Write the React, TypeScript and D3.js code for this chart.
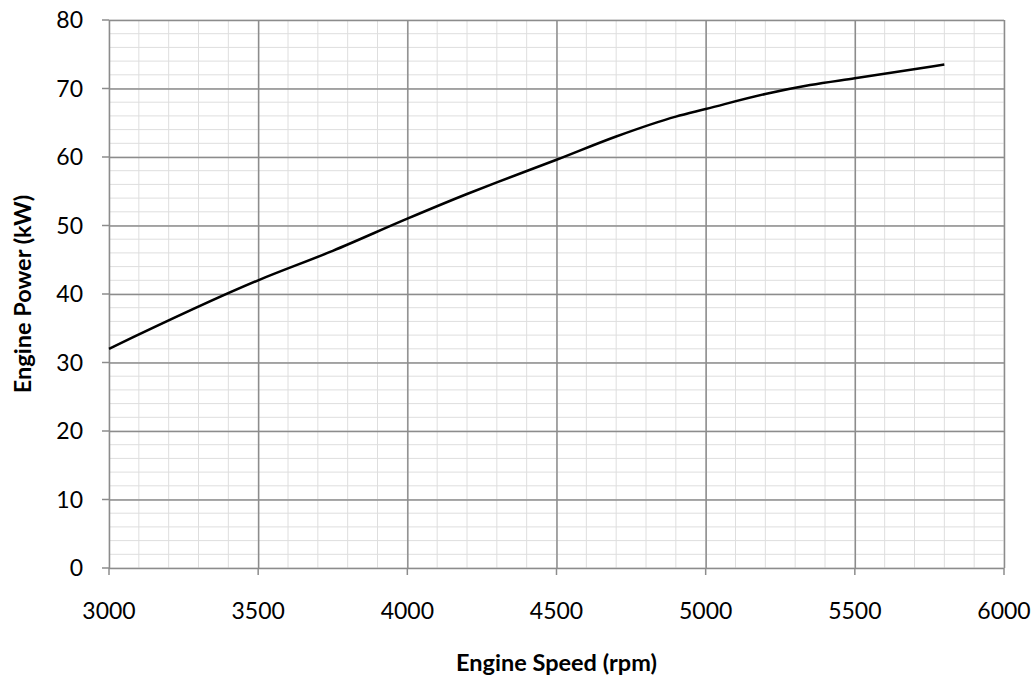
import * as d3 from 'd3';
import { useRef, useEffect } from 'react';

// DATA
const SPEED = [3000, 3500, 3750, 4000, 4200, 4300, 4500, 4700, 4900, 5000, 5200, 5350, 5500, 5800];
const POWER = [32, 42, 46.3, 51, 54.6, 56.3, 59.6, 63, 65.9, 67, 69.2, 70.5, 71.5, 73.5];
const X_TICKS = [3000, 3500, 4000, 4500, 5000, 5500, 6000];
const Y_TICKS = [0, 10, 20, 30, 40, 50, 60, 70, 80];
const X_MINOR = d3.range(3000, 6001, 100);
const Y_MINOR = d3.range(0, 81, 2);

// RENDERING SETUP
const W = 1035;
const H = 677;
const MARGIN = { TOP: 20, BOTTOM: 109, LEFT: 109, RIGHT: 31 };
const FONT = 'Lato, "Open Sans", sans-serif';
const COLOR = { MAJOR: '#8c8c8c', MINOR: '#dedede', LINE: '#000', TEXT: '#000' };

const App = () => {
  const svgRef = useRef<SVGSVGElement>(null);

  useEffect(() => {
    const svg = d3.select(svgRef.current);
    svg.selectAll('*').remove();

    const x = d3.scaleLinear().domain([3000, 6000]).range([MARGIN.LEFT, W - MARGIN.RIGHT]);
    const y = d3.scaleLinear().domain([0, 80]).range([H - MARGIN.BOTTOM, MARGIN.TOP]);

    const g = svg.append('g');

    // minor grid
    g.append('g')
      .selectAll('line')
      .data(X_MINOR)
      .join('line')
      .attr('x1', (d) => x(d))
      .attr('x2', (d) => x(d))
      .attr('y1', y(0))
      .attr('y2', y(80))
      .attr('stroke', COLOR.MINOR);
    g.append('g')
      .selectAll('line')
      .data(Y_MINOR)
      .join('line')
      .attr('y1', (d) => y(d))
      .attr('y2', (d) => y(d))
      .attr('x1', x(3000))
      .attr('x2', x(6000))
      .attr('stroke', COLOR.MINOR);

    // major grid
    const xAxis = g
      .append('g')
      .attr('transform', `translate(0, ${y(0)})`)
      .call(
        d3
          .axisBottom(x)
          .tickValues(X_TICKS)
          .tickSize(-(y(0) - y(80)))
          .tickFormat(() => '')
      );
    xAxis.select('.domain').remove();
    xAxis.selectAll('line').attr('stroke', COLOR.MAJOR).attr('stroke-width', 1.5);

    const yAxis = g
      .append('g')
      .attr('transform', `translate(${x(3000)}, 0)`)
      .call(
        d3
          .axisLeft(y)
          .tickValues(Y_TICKS)
          .tickSize(-(x(6000) - x(3000)))
          .tickFormat(() => '')
      );
    yAxis.select('.domain').remove();
    yAxis.selectAll('line').attr('stroke', COLOR.MAJOR).attr('stroke-width', 1.5);

    // outer ticks
    g.append('g')
      .selectAll('line')
      .data(X_TICKS)
      .join('line')
      .attr('x1', (d) => x(d))
      .attr('x2', (d) => x(d))
      .attr('y1', y(0))
      .attr('y2', y(0) + 7)
      .attr('stroke', COLOR.MAJOR)
      .attr('stroke-width', 1.5);
    g.append('g')
      .selectAll('line')
      .data(Y_TICKS)
      .join('line')
      .attr('y1', (d) => y(d))
      .attr('y2', (d) => y(d))
      .attr('x1', x(3000) - 7)
      .attr('x2', x(3000))
      .attr('stroke', COLOR.MAJOR)
      .attr('stroke-width', 1.5);

    // tick labels
    g.append('g')
      .selectAll('text')
      .data(X_TICKS)
      .join('text')
      .attr('x', (d) => x(d))
      .attr('y', y(0) + 51)
      .attr('text-anchor', 'middle')
      .attr('font-family', FONT)
      .attr('font-size', 23)
      .attr('fill', COLOR.TEXT)
      .text((d) => d);
    g.append('g')
      .selectAll('text')
      .data(Y_TICKS)
      .join('text')
      .attr('x', x(3000) - 26)
      .attr('y', (d) => y(d) + 8)
      .attr('text-anchor', 'end')
      .attr('font-family', FONT)
      .attr('font-size', 23)
      .attr('fill', COLOR.TEXT)
      .text((d) => d);

    // axis titles
    g.append('text')
      .attr('x', (x(3000) + x(6000)) / 2)
      .attr('y', 671)
      .attr('text-anchor', 'middle')
      .attr('font-family', FONT)
      .attr('font-size', 23.5)
      .attr('font-weight', 'bold')
      .attr('fill', COLOR.TEXT)
      .text('Engine Speed (rpm)');
    g.append('text')
      .attr('transform', `translate(31, ${(y(0) + y(80)) / 2}) rotate(-90)`)
      .attr('text-anchor', 'middle')
      .attr('font-family', FONT)
      .attr('font-size', 23.5)
      .attr('font-weight', 'bold')
      .attr('fill', COLOR.TEXT)
      .text('Engine Power (kW)');

    // data line
    const line = d3
      .line<number>()
      .x((d) => x(d))
      .y((d, i) => y(POWER[i]))
      .curve(d3.curveMonotoneX);
    g.append('path')
      .datum(SPEED)
      .attr('d', line)
      .attr('fill', 'none')
      .attr('stroke', COLOR.LINE)
      .attr('stroke-width', 2.5);
  }, []);

  return <svg ref={svgRef} width={W} height={H} style={{ position: 'absolute', left: 0, top: 0 }} />;
};

export default App;
